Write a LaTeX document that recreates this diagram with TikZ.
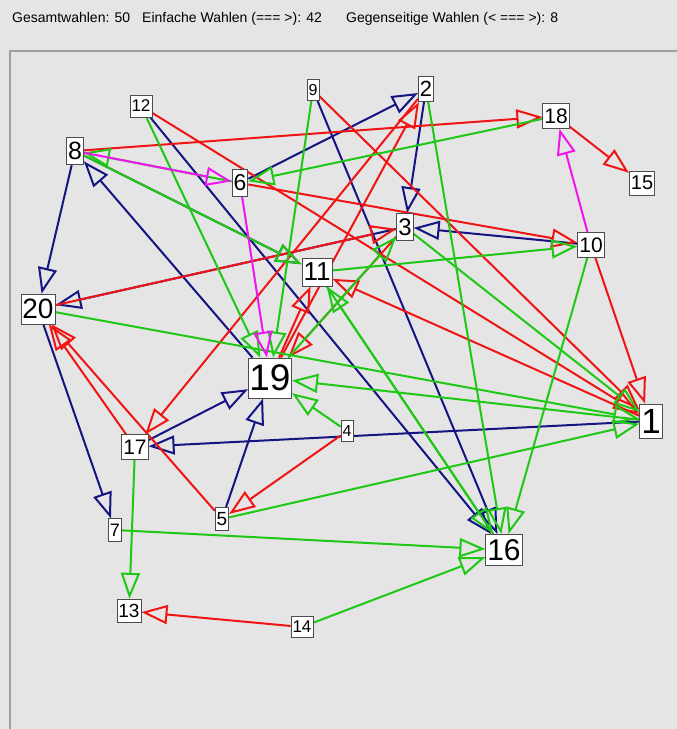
\documentclass[tikz,border=0pt]{standalone}
\usepackage{fontspec}
\setmainfont{Liberation Sans}
\usetikzlibrary{arrows.meta}
\definecolor{wblau}{RGB}{20,20,130}
\definecolor{wrot}{RGB}{240,20,20}
\definecolor{wgruen}{RGB}{30,200,20}
\definecolor{wpink}{RGB}{240,20,240}
\definecolor{hinter}{RGB}{229,229,229}
\definecolor{rahmen}{RGB}{160,160,160}
\newcommand{\nfont}[1]{\fontsize{#1}{#1}\selectfont}
\pgfdeclarelayer{bg}
\pgfsetlayers{bg,main}

\begin{document}
\begin{tikzpicture}[x=1pt, y=-1pt,
          box/.style={draw=black!70, fill=white, line width=0.8pt, inner xsep=1.5pt, inner ysep=5pt},
          arr/.style={-{Triangle[open, length=26pt, width=19pt]}, line width=2pt},
          head/.style={anchor=base west, font=\nfont{14}, inner sep=0pt}
        ]
        \useasboundingbox (0,0) rectangle (677,729);
        \node[head] (t1) at (12,22) {Gesamtwahlen: 50};
        \node[head] (t2) at (142,22) {Einfache Wahlen (=== >): 42};
        \node[head] (t3) at (346,22) {Gegenseitige Wahlen (< === >): 8};

        \node[box, font=\nfont{35}] (n1) at (651,421) {1};
        \node[box, font=\nfont{22}] (n2) at (426,89) {2};
        \node[box, font=\nfont{24}] (n3) at (405,227) {3};
        \node[box, font=\nfont{16}] (n4) at (347,431) {4};
        \node[box, font=\nfont{19}] (n5) at (222,519) {5};
        \node[box, font=\nfont{23}] (n6) at (240,183) {6};
        \node[box, font=\nfont{18}] (n7) at (115,530) {7};
        \node[box, font=\nfont{25}] (n8) at (75,151) {8};
        \node[box, font=\nfont{16}] (n9) at (313,90) {9};
        \node[box, font=\nfont{21}] (n10) at (591,245) {10};
        \node[box, font=\nfont{26}] (n11) at (317,272) {11};
        \node[box, font=\nfont{17}] (n12) at (141,106) {12};
        \node[box, font=\nfont{19}] (n13) at (129,611) {13};
        \node[box, font=\nfont{17}] (n14) at (302,627) {14};
        \node[box, font=\nfont{20}] (n15) at (642,183) {15};
        \node[box, font=\nfont{30}] (n16) at (504,550) {16};
        \node[box, font=\nfont{21}] (n17) at (135,447) {17};
        \node[box, font=\nfont{21}] (n18) at (556,116) {18};
        \node[box, font=\nfont{37}, inner xsep=1pt, minimum height=40pt] (n19) at (270,378) {19};
        \node[box, font=\nfont{28}] (n20) at (38,309) {20};

        \begin{pgfonlayer}{bg}
        \fill[hinter] (0,0) rectangle (677,729);
        \draw[rahmen, line width=2pt] (10,729) -- (10,51) -- (677,51);

        \draw[arr, wblau] (n8) -- (n20);
        \draw[arr, wblau] (n19) -- (n8);
        \draw[arr, wblau] (n12) -- (n16);
        \draw[arr, wblau] (n9) -- (n16);
        \draw[arr, wblau] (n2) -- (n3);
        \draw[arr, wblau] (n6) -- (n2);
        \draw[arr, wblau] (n10) -- (n3);
        \draw[arr, wblau] (n3) -- (n20);
        \draw[arr, wblau] (n1) -- (n17);
        \draw[arr, wblau] (n17) -- (n19);
        \draw[arr, wblau] (n5) -- (n19);
        \draw[arr, wblau] (n20) -- (n7);
        \draw[arr, wblau] (n8) -- (n11);

        \draw[arr, wrot] (n8) -- (n18);
        \draw[arr, wrot] (n18) -- (n15);
        \draw[arr, wrot] (n12) -- (n1);
        \draw[arr, wrot] (n9) -- (n1);
        \draw[arr, wrot] (n6) -- (n10);
        \draw[arr, wrot] (n20) -- (n3);
        \draw[arr, wrot] (n2) -- (n17);
        \draw[arr, wrot] (n19) -- (n2);
        \draw[arr, wrot] (n3) -- (n19);
        \draw[arr, wrot] (n19) -- (n11);
        \draw[arr, wrot] (n1) -- (n11);
        \draw[arr, wrot] (n4) -- (n5);
        \draw[arr, wrot] (n17) -- (n20);
        \draw[arr, wrot] (n5) -- (n20);
        \draw[arr, wrot] (n10) -- (n1);
        \draw[arr, wrot] (n14) -- (n13);

        \draw[arr, wgruen] (n20) -- (n1);
        \draw[arr, wgruen] (n6) -- (n8);
        \draw[arr, wgruen] (n18) -- (n6);
        \draw[arr, wgruen] (n8) -- (n11);
        \draw[arr, wgruen] (n12) -- (n19);
        \draw[arr, wgruen] (n9) -- (n19);
        \draw[arr, wgruen] (n2) -- (n16);
        \draw[arr, wgruen] (n10) -- (n16);
        \draw[arr, wgruen] (n11) -- (n10);
        \draw[arr, wgruen] (n3) -- (n1);
        \draw[arr, wgruen] (n11) -- (n16);
        \draw[arr, wgruen] (n16) -- (n11);
        \draw[arr, wgruen] (n14) -- (n16);
        \draw[arr, wgruen] (n7) -- (n16);
        \draw[arr, wgruen] (n17) -- (n13);
        \draw[arr, wgruen] (n1) -- (n19);
        \draw[arr, wgruen] (n4) -- (n19);
        \draw[arr, wgruen] (n5) -- (n1);
        \draw[arr, wgruen] (n19) -- (n3);

        \draw[arr, wpink] (n8) -- (n6);
        \draw[arr, wpink] (n6) -- (n19);
        \draw[arr, wpink] (n10) -- (n18);
        \end{pgfonlayer}
      \end{tikzpicture}
\end{document}
